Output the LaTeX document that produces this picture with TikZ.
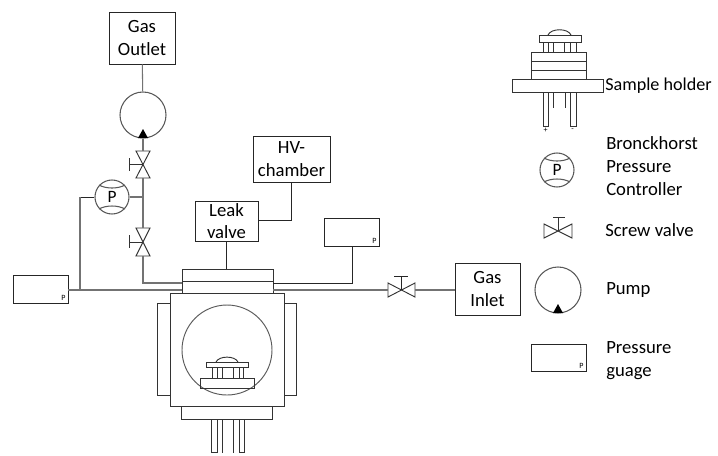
\documentclass[tikz,border=0pt]{standalone}
\usepackage{fontspec}
\setmainfont{Carlito}

\tikzset{
  wire/.style={draw=black!55, line width=1.1pt},
  thinwire/.style={draw=black!85, line width=0.7pt},
  part/.style={draw=black!80, line width=0.7pt},
  labelbox/.style={draw=black!85, line width=0.7pt, align=center, inner sep=0pt, font=\fontsize{14pt}{17pt}\selectfont},
  legendtext/.style={align=left, anchor=west, inner sep=0pt, font=\fontsize{14pt}{17.25pt}\selectfont},
  gaugebox/.style={draw=black!85, line width=0.7pt, minimum width=41.25pt, minimum height=20.5pt, inner sep=0pt},
  pumpring/.style={circle, draw=black!65, line width=0.8pt, minimum size=34.5pt, inner sep=0pt},
  ctrlring/.style={circle, draw=black!65, line width=0.8pt, minimum size=25.5pt, inner sep=0pt, font=\fontsize{13pt}{13pt}\selectfont},
  valvebox/.style={inner sep=0pt, minimum width=14pt, minimum height=14pt},
  pics/ctrlarcs/.style={code={
    \draw[draw=black!65, line width=0.8pt] (-13,-12) .. controls (-6,-8) and (6,-8) .. (13,-12);
    \draw[draw=black!65, line width=0.8pt] (-13,12) .. controls (-6,8) and (6,8) .. (13,12);
  }}
}

\begin{document}
\begin{tikzpicture}[x=0.75pt, y=-0.75pt]
  \useasboundingbox (0,0) rectangle (718,455);

  \def\gaugep#1{\node[font=\fontsize{6pt}{6pt}\selectfont, inner sep=0pt] at ([shift={(-5,-6)}]#1.south east) {P};}

  % boxes
  \node[labelbox, minimum width=49.5pt, minimum height=39pt] (outlet) at (142,38) {Gas\\Outlet};
  \node[labelbox, minimum width=57.75pt, minimum height=34.5pt] (hvchamber) at (291.5,159) {HV-\\chamber};
  \node[labelbox, minimum width=47.25pt, minimum height=30pt] (leakvalve) at (226.5,221) {Leak\\valve};
  \node[labelbox, minimum width=48.75pt, minimum height=39pt] (inlet) at (487.5,289) {Gas\\Inlet};

  % pump and controller
  \node[pumpring] (pump) at (143,115) {};
  \fill (143,129) -- (148,138) -- (138,138) -- cycle;
  \node[ctrlring] (ctrl) at (112,197) {P};
  \pic at (ctrl) {ctrlarcs};

  % valves
  \node[valvebox] (valveup) at (143,164.5) {};
  \node[valvebox] (valvelow) at (143,242) {};
  \node[valvebox, minimum width=20pt, minimum height=10.5pt] (valveinlet) at (401.5,290) {};
  \draw[part] (136,151) -- (150,151) -- (136,178) -- (150,178) -- cycle;
  \draw[part] (136,228) -- (150,228) -- (136,256) -- (150,256) -- cycle;
  \draw[part] (388,283) -- (388,297) -- (415,283) -- (415,297) -- cycle;
  \draw[part] (143,164.5) -- (129,164.5) (129,158) -- (129,171);
  \draw[part] (143,242) -- (129,242) (129,235) -- (129,248);
  \draw[thinwire] (401.5,290) -- (401.5,276) (394,276) -- (408,276);

  % gauges
  \node[gaugebox] (gaugeleft) at (40.5,289.5) {};
  \node[gaugebox] (gaugeright) at (351.5,232.5) {};
  \gaugep{gaugeleft}
  \gaugep{gaugeright}

  % chamber
  \draw[part] (182,269) rectangle (273,293);
  \draw[part] (182,281) -- (273,281);
  \node[draw=black!80, line width=0.7pt, minimum width=85.5pt, minimum height=84.75pt, inner sep=0pt] (chamber) at (227,349.5) {};
  \draw[part] (170,303) -- (157,303) -- (157,395) -- (170,395);
  \draw[part] (284,303) -- (296,303) -- (296,395) -- (284,395);
  \node[circle, draw=black!65, line width=0.7pt, minimum size=67.5pt, inner sep=0pt] (window) at (227,350) {};
  \draw[part] (181,406) -- (181,419) -- (272,419) -- (272,406);

  % holder inside chamber
  \draw[part] (200,378) -- (254,378) -- (254,388) -- (200,388) -- cycle;
  \draw[part] (206,362) rectangle (248,367);
  \draw[part] (216,362) .. controls (219,355.5) and (235,355.5) .. (238,362);
  \foreach \x in {212,217,222,233,239,243} {
    \draw[part] (\x,367) -- (\x,378);
  }
  \draw[part] (211,452) -- (211,419) (217,419) -- (217,452) -- (211,452);
  \draw[part] (239,452) -- (239,419) (244,419) -- (244,452) -- (239,452);
  \draw[part] (222,419) -- (222,453) (233,419) -- (233,453);

  % connectors
  \coordinate (topleft) at (143,283);
  \coordinate (topright) at (352,283);
  \coordinate (flangeleft) at (182,283);
  \coordinate (flangeright) at (273,283);
  \coordinate (mainleft) at (182,290);
  \coordinate (mainright) at (273,290);
  \coordinate (ctrltee) at (143,197);
  \coordinate (ctrlcorner) at (80,197);
  \coordinate (ctrldrop) at (80,290);
  \coordinate (flangetop) at (226.5,269);
  \coordinate (hvcorner) at (291.5,220);
  \draw[wire, line width=0.8pt] (outlet) -- (pump);
  \draw[wire] (pump.south) -- (143,151);
  \draw[wire] (143,178) -- (143,228);
  \draw[wire] (143,256) -- (topleft) -- (flangeleft);
  \draw[wire] (ctrl) -- (ctrltee);
  \draw[thinwire] (ctrl) -- (ctrlcorner);
  \draw[wire, line width=0.8pt] (ctrlcorner) -- (ctrldrop);
  \draw[wire] (gaugeleft.east |- mainleft) -- (mainleft);
  \draw[wire] (mainright) -- (valveinlet.west);
  \draw[wire] (valveinlet.east) -- (inlet.west |- valveinlet);
  \draw[thinwire] (flangeright) -- (topright) -- (gaugeright.south -| topright);
  \draw[thinwire] (leakvalve) -- (flangetop);
  \draw[thinwire] (hvchamber) -- (hvcorner) -- (hvcorner -| leakvalve.east);

  % legend sample holder
  \draw[part] (512,79) rectangle (603,92);
  \draw[part] (531,52) rectangle (586,79);
  \draw[part] (531,61) -- (586,61) (531,70) -- (586,70);
  \draw[part] (539,35) rectangle (581,42);
  \draw[part] (548,35) .. controls (551,28) and (568,28) .. (571,35);
  \foreach \x in {543,548,553,564,570,576} {
    \draw[part] (\x,42) -- (\x,52);
  }
  \draw[part] (543,92) -- (543,126) -- (548,126) -- (548,92);
  \draw[part] (570,92) -- (570,126) -- (576,126) -- (576,92);
  \draw[part] (553,92) -- (553,108) (565,92) -- (565,108);
  \node[font=\fontsize{6pt}{6pt}\selectfont, inner sep=0pt] (plus) at (545.5,130) {+};
  \node[font=\fontsize{6pt}{6pt}\selectfont, inner sep=0pt] (minus) at (572.5,130) {-};
  \node[legendtext, font=\fontsize{13.6pt}{17pt}\selectfont] (lbholder) at (605,85.5) {Sample holder};

  % legend symbols
  \node[ctrlring] (ctrlkey) at (557,170) {P};
  \pic at (ctrlkey) {ctrlarcs};
  \node[legendtext] (lbctrl) at (606,166) {Bronckhorst\\Pressure\\Controller};

  \draw[part] (544,224) -- (544,238) -- (572,224) -- (572,238) -- cycle;
  \draw[part] (558,231) -- (558,217) (553,217) -- (565,217);
  \node[legendtext] (lbvalve) at (605,230) {Screw valve};

  \node[pumpring] (pumpkey) at (558,290) {};
  \fill (558,304) -- (563,313) -- (553,313) -- cycle;
  \node[legendtext] (lbpump) at (606,290) {Pump};

  \node[gaugebox] (gaugekey) at (558.5,358) {};
  \gaugep{gaugekey}
  \node[legendtext] (lbgauge) at (606,361) {Pressure\\guage};
\end{tikzpicture}
\end{document}
